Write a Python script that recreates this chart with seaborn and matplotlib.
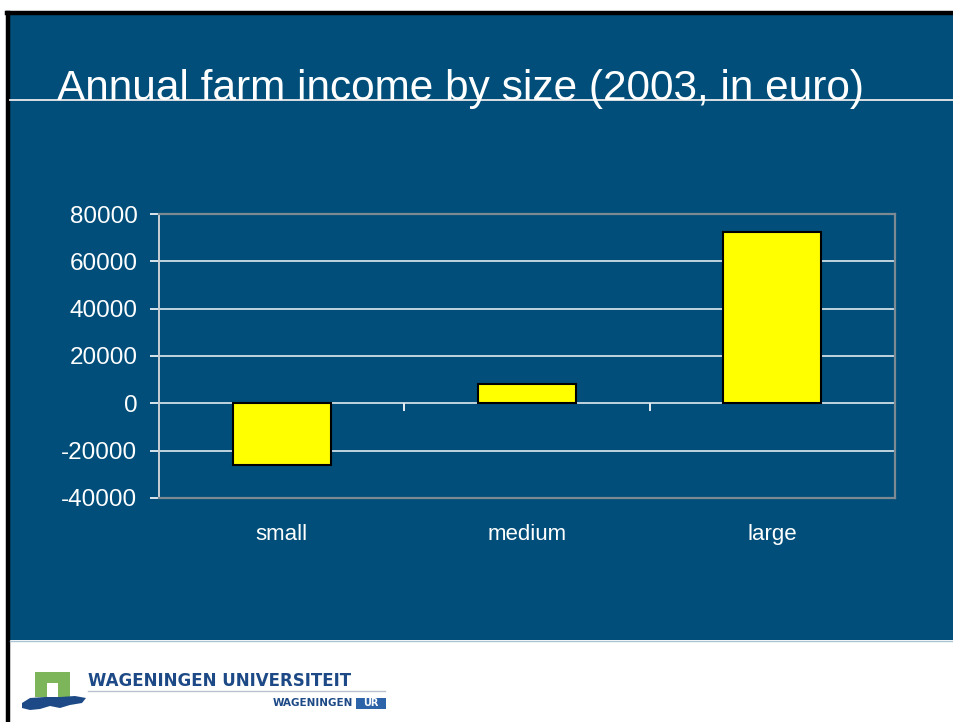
import matplotlib
matplotlib.use("Agg")
import matplotlib.pyplot as plt
from matplotlib.patches import Rectangle, Polygon
from matplotlib.lines import Line2D
import seaborn as sns
import pandas as pd
import numpy as np

# ---- data ----
categories = ["small", "medium", "large"]
income = [-26000, 8000, 72500]
yticks = [-40000, -20000, 0, 20000, 40000, 60000, 80000]
title = "Annual farm income by size (2003, in euro)"

plt.rcParams['font.family'] = ['Liberation Sans', 'DejaVu Sans']

W, H = 954, 722
BLUE = "#004e79"
fig = plt.figure(figsize=(W / 100, H / 100), dpi=100, facecolor="white")

def fx(px):
    return px / W

def fy(py):
    return 1 - py / H

# slide background
fig.patches.append(Rectangle((fx(10), fy(640)), fx(954) - fx(10), fy(14) - fy(640),
                             transform=fig.transFigure, facecolor=BLUE, edgecolor="none", zorder=-10))
# black border (top and left)
fig.add_artist(Line2D([fx(8.5), fx(8.5)], [fy(722), fy(12.5)], transform=fig.transFigure,
                      color="black", lw=3.2, zorder=1))
fig.add_artist(Line2D([fx(7), fx(954)], [fy(12.5), fy(12.5)], transform=fig.transFigure,
                      color="black", lw=3.2, zorder=1))
# light line at bottom of blue
fig.add_artist(Line2D([fx(10), fx(954)], [fy(640.5), fy(640.5)], transform=fig.transFigure,
                      color="#a9c3d3", lw=1.0, zorder=1))

# title + rule
fig.text(fx(57), fy(100), title, color="white", fontsize=30.5, ha="left", va="baseline", zorder=3)
fig.add_artist(Line2D([fx(10), fx(954)], [fy(99.5), fy(99.5)], transform=fig.transFigure,
                      color="#d9dee3", lw=1.4, zorder=2))

# ---- chart ----
left, right, top, bottom = 159, 895, 214, 498
ax = fig.add_axes([fx(left), fy(bottom), fx(right) - fx(left), fy(top) - fy(bottom)])
ax.set_facecolor(BLUE)

df = pd.DataFrame({"size": categories, "income": income})
sns.barplot(data=df, x="size", y="income", color="#ffff00", edgecolor="black",
            linewidth=1.5, width=0.4, saturation=1, ax=ax, zorder=3)

ax.set_ylim(yticks[0], yticks[-1])
ax.set_xlim(-0.5, len(categories) - 0.5)
ax.set_yticks(yticks)
ax.set_yticklabels([str(t) for t in yticks])
ax.yaxis.grid(True, color="#e3ebf0", lw=1.2, zorder=1)
ax.xaxis.grid(False)
ax.set_axisbelow(True)
ax.set_xlabel("")
ax.set_ylabel("")

for s in ["top", "bottom", "right"]:
    ax.spines[s].set_color("#7d8a94")
    ax.spines[s].set_linewidth(1.6)
ax.spines["left"].set_color("#c9cfd4")
ax.spines["left"].set_linewidth(1.4)

ax.tick_params(axis="y", colors="white", labelcolor="white", labelsize=17.5,
               length=6.5, width=1.2, pad=9, direction="out")
ax.tick_params(axis="x", length=0, labelcolor="white", labelsize=16, pad=19)

# category separator ticks on the zero line
zero_loc = (0 - yticks[0]) / (yticks[-1] - yticks[0])
sec = ax.secondary_xaxis(zero_loc)
sec.set_xticks([i + 0.5 for i in range(len(categories))])
sec.tick_params(axis="x", direction="out", length=6, width=1.4, colors="#e8eef2",
                labelbottom=False, labeltop=False, bottom=True, top=False)
sec.spines[:].set_visible(False)

# ---- logo (footer) ----
GREEN = "#7db65a"
DBLUE = "#1d4a86"
fig.patches.append(Rectangle((fx(35), fy(697)), fx(70) - fx(35), fy(672) - fy(697),
                             transform=fig.transFigure, facecolor=GREEN, edgecolor="none"))
fig.patches.append(Rectangle((fx(47), fy(698)), fx(58) - fx(47), fy(683) - fy(698),
                             transform=fig.transFigure, facecolor="white", edgecolor="none"))
wave = [(22, 703), (30, 698), (45, 697), (60, 697), (75, 696), (86, 698), (82, 703),
        (70, 705), (60, 708), (50, 706), (40, 709), (30, 710), (22, 708)]
fig.patches.append(Polygon([(fx(a), fy(b)) for a, b in wave], closed=True,
                           transform=fig.transFigure, facecolor=DBLUE, edgecolor="none"))

fig.text(fx(88), fy(681), "WAGENINGEN UNIVERSITEIT", color=DBLUE, fontsize=12,
         fontweight="bold", family="DejaVu Sans", ha="left", va="center")
fig.add_artist(Line2D([fx(88), fx(385)], [fy(691), fy(691)], transform=fig.transFigure,
                      color="#b8c2cf", lw=1.0))
fig.text(fx(353), fy(703.5), "WAGENINGEN", color=DBLUE, fontsize=7.5,
         fontweight="bold", family="DejaVu Sans", ha="right", va="center")
fig.patches.append(Rectangle((fx(356), fy(709)), fx(386) - fx(356), fy(698) - fy(709),
                             transform=fig.transFigure, facecolor="#2d63a8", edgecolor="none"))
fig.text(fx(371), fy(703.5), "UR", color="white", fontsize=7, fontweight="bold",
         family="DejaVu Sans", ha="center", va="center")

fig.savefig("out.png", dpi=100, facecolor="white")
